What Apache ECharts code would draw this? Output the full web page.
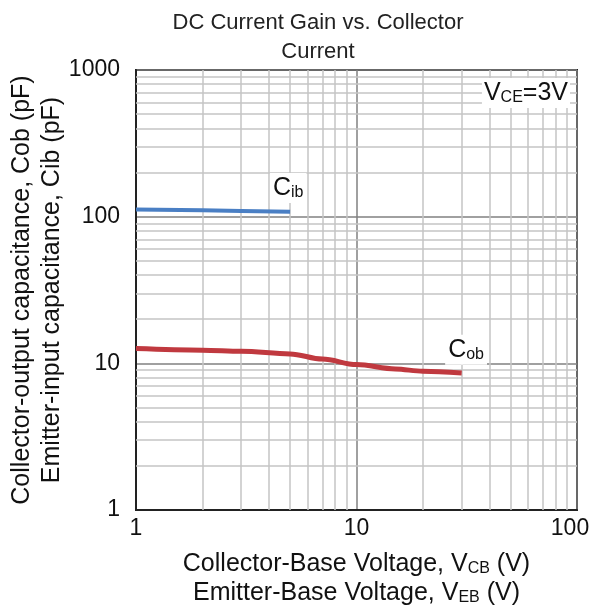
<!DOCTYPE html>
<html>
<head>
<meta charset="utf-8">
<script src="https://cdn.jsdelivr.net/npm/echarts@6/dist/echarts.min.js"></script>
<style>
html,body{margin:0;padding:0;background:#fff;}
#main{width:592px;height:610px;}
</style>
</head>
<body>
<div id="main"></div>
<script>
// collector-output capacitance vs V_CB
var vCb = [1, 2, 3, 5, 7, 10, 15, 20, 30];
var cob = [12.6, 12.3, 12.1, 11.6, 10.7, 9.8, 9.15, 8.83, 8.6];
// emitter-input capacitance vs V_EB
var vEb = [1, 2, 3, 5];
var cib = [112, 110.5, 109.5, 108];
// minor grid lines (2..9 per decade)
var xMinor = [2, 3, 4, 5, 6, 7, 8, 9, 20, 30, 40, 50, 60, 70, 80, 90];
var yMinor = [2, 3, 4, 5, 6, 7, 8, 9, 20, 30, 40, 50, 60, 70, 80, 90, 200, 300, 400, 500, 600, 700, 800, 900];

var font = 'Liberation Sans, Arial, sans-serif';
var myChart = echarts.init(document.getElementById('main'));

var minorLines = [];
xMinor.forEach(function (v) { minorLines.push({xAxis: v}); });
yMinor.forEach(function (v) { minorLines.push({yAxis: v}); });

function zip(xs, ys) {
    return xs.map(function (x, i) { return [x, ys[i]]; });
}

var subRich = {
    b: {fontSize: 25, fontFamily: font, color: '#111'},
    s: {fontSize: 16, fontFamily: font, color: '#111', padding: [10, 0, 0, 0]}
};

option = {
    backgroundColor: '#fff',
    title: {
        text: 'DC Current Gain vs. Collector\nCurrent',
        left: 313,
        top: 3,
        textAlign: 'center',
        textStyle: {
            fontFamily: font,
            fontSize: 22,
            fontWeight: 'normal',
            color: '#222',
            lineHeight: 29
        }
    },
    grid: {
        left: 136, top: 70, right: 15, bottom: 100,
        outerBoundsMode: 'none',
        show: true, borderColor: '#222', borderWidth: 2
    },
    xAxis: {
        type: 'log',
        logBase: 10,
        min: 1, max: 100,
        name: 'Collector-Base Voltage, V{s|CB} (V)\nEmitter-Base Voltage, V{s|EB} (V)',
        nameLocation: 'middle',
        nameGap: 40,
        nameMoveOverlap: false,
        nameTextStyle: {
            fontFamily: font, fontSize: 25, color: '#111', lineHeight: 29,
            rich: {
                s: {fontSize: 16, fontFamily: font, color: '#111', padding: [9, 0, 0, 0]}
            }
        },
        axisLine: {lineStyle: {color: '#222', width: 2}},
        axisTick: {show: false},
        axisLabel: {
            fontFamily: font, fontSize: 23, color: '#111', margin: 7,
            formatter: function (v) { return v >= 100 ? '{r|' + v + '}' : String(v); },
            rich: {r: {fontFamily: font, fontSize: 23, color: '#111', padding: [0, 14, 0, 0]}}
        },
        splitLine: {show: true, lineStyle: {color: '#808080', width: 1.5}}
    },
    yAxis: {
        type: 'log',
        logBase: 10,
        min: 1, max: 1000,
        name: 'Collector-output capacitance, Cob (pF)\nEmitter-input capacitance, Cib (pF)',
        nameLocation: 'middle',
        nameGap: 69,
        nameMoveOverlap: false,
        nameTextStyle: {fontFamily: font, fontSize: 25, color: '#111', lineHeight: 30},
        axisLine: {lineStyle: {color: '#222', width: 2}},
        axisTick: {show: false},
        axisLabel: {
            fontFamily: font, fontSize: 23, color: '#111', margin: 16,
            formatter: function (v) { return String(v); }
        },
        splitLine: {show: true, lineStyle: {color: '#808080', width: 1.5}}
    },
    series: [
        {
            name: 'grid',
            type: 'line',
            data: [],
            z: 1,
            silent: true,
            markLine: {
                silent: true,
                symbol: 'none',
                label: {show: false},
                lineStyle: {color: '#c4c4c4', width: 1.5, type: 'solid'},
                emphasis: {disabled: true},
                data: minorLines
            }
        },
        {
            name: 'Cob',
            type: 'line',
            data: zip(vCb, cob),
            smooth: 0.35,
            smoothMonotone: 'x',
            symbol: 'none',
            zlevel: 1,
            lineStyle: {color: '#c0393f', width: 5},
            markPoint: {
                symbol: 'rect',
                symbolSize: 0,
                data: [{coord: [31.4, 12.4]}],
                label: {
                    show: true,
                    formatter: '{b|C}{s|ob}',
                    backgroundColor: '#fff',
                    padding: [2, 3, 2, 3],
                    rich: subRich
                }
            }
        },
        {
            name: 'Cib',
            type: 'line',
            data: zip(vEb, cib),
            symbol: 'none',
            zlevel: 1,
            lineStyle: {color: '#4a7fc4', width: 4},
            markPoint: {
                symbol: 'rect',
                symbolSize: 0,
                data: [{coord: [4.9, 157]}],
                label: {
                    show: true,
                    formatter: '{b|C}{s|ib}',
                    backgroundColor: '#fff',
                    padding: [2, 3, 2, 3],
                    rich: subRich
                }
            }
        }
    ],
    graphic: [
        {
            type: 'text',
            right: 22,
            top: 78,
            z: 10,
            style: {
                text: 'V{s|CE}=3V',
                fill: '#111',
                font: '25px ' + font,
                backgroundColor: '#fff',
                padding: [2, 2, 2, 2],
                rich: {
                    s: {fontSize: 16, fontFamily: font, fill: '#111', padding: [10, 0, 0, 0]}
                }
            }
        }
    ]
};
myChart.setOption(option);
</script>
</body>
</html>
